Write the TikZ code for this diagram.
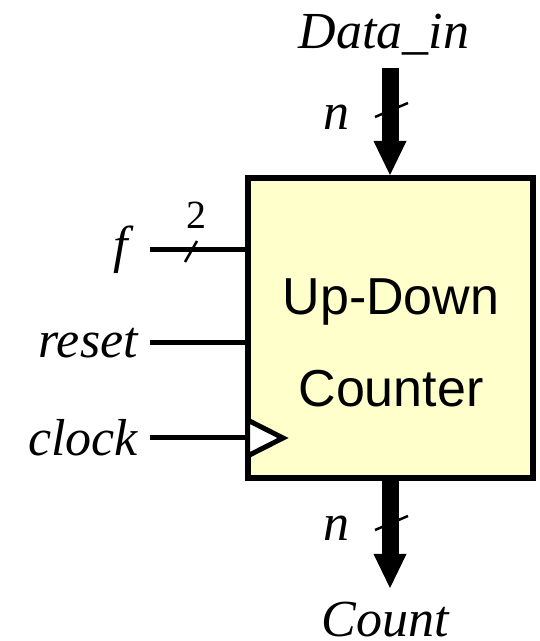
\documentclass[tikz,border=0pt]{standalone}
\usepackage{fontspec}
\setmainfont{Liberation Serif}
\newfontfamily\boxfont{Liberation Sans}
\usetikzlibrary{arrows.meta, positioning}
\definecolor{counterfill}{HTML}{FFFFCC}

\begin{document}
\begin{tikzpicture}[x=1pt, y=1pt,
  sig/.style={font=\fontsize{52}{60}\selectfont\itshape, inner sep=0pt},
  wire/.style={line width=5pt},
  bus/.style={line width=17pt, -{Triangle[length=34pt, width=33pt, line width=0pt]}},
  slash/.style={line width=2.5pt}]
  \useasboundingbox (0,0) rectangle (540,641);

  % Counter block
  \node[draw, line width=6pt, fill=counterfill, minimum width=285pt,
    minimum height=300pt] (ctr) at (390,313) {};
  \node[font=\boxfont\fontsize{52}{92}\selectfont, align=center] (ctrname)
    at (391,298) {Up-Down\\Counter};

  % Data input bus
  \node[sig] (datain) at (384,606) {Data\_in};
  \coordinate (dtop) at (390,573);
  \draw[bus] (dtop) -- (ctr.north);
  \draw[slash] (375,524) -- (408,538);
  \node[sig] (nin) at (336,524) {n};

  % Count output bus
  \coordinate (cbot) at (390,53);
  \node[sig] (count) at (385,21) {Count};
  \draw[bus] (ctr.south) -- (cbot);
  \draw[slash] (375,111) -- (408,125);
  \node[sig] (nout) at (336,113) {n};

  % Left inputs
  \coordinate (fin) at (150,391);
  \coordinate (rin) at (150,298);
  \coordinate (cin) at (150,203);
  \node[sig, left=22pt of fin] (f) {f};
  \node[sig, left=12pt of rin] (reset) {reset};
  \node[sig, left=12pt of cin] (clock) {clock};
  \draw[wire] (fin) -- (fin -| ctr.west);
  \draw[wire] (rin) -- (rin -| ctr.west);
  \draw[wire] (cin) -- (cin -| ctr.west);
  \draw[slash] (185,379) -- (197,400);
  \node[font=\fontsize{40}{48}\selectfont, inner sep=0pt] (fw) at (196,426) {2};

  % Clock marker
  \draw[line width=5pt, line join=miter, fill=white] (247.5,221) -- (283,203)
    -- (247.5,185) -- cycle;
\end{tikzpicture}
\end{document}
